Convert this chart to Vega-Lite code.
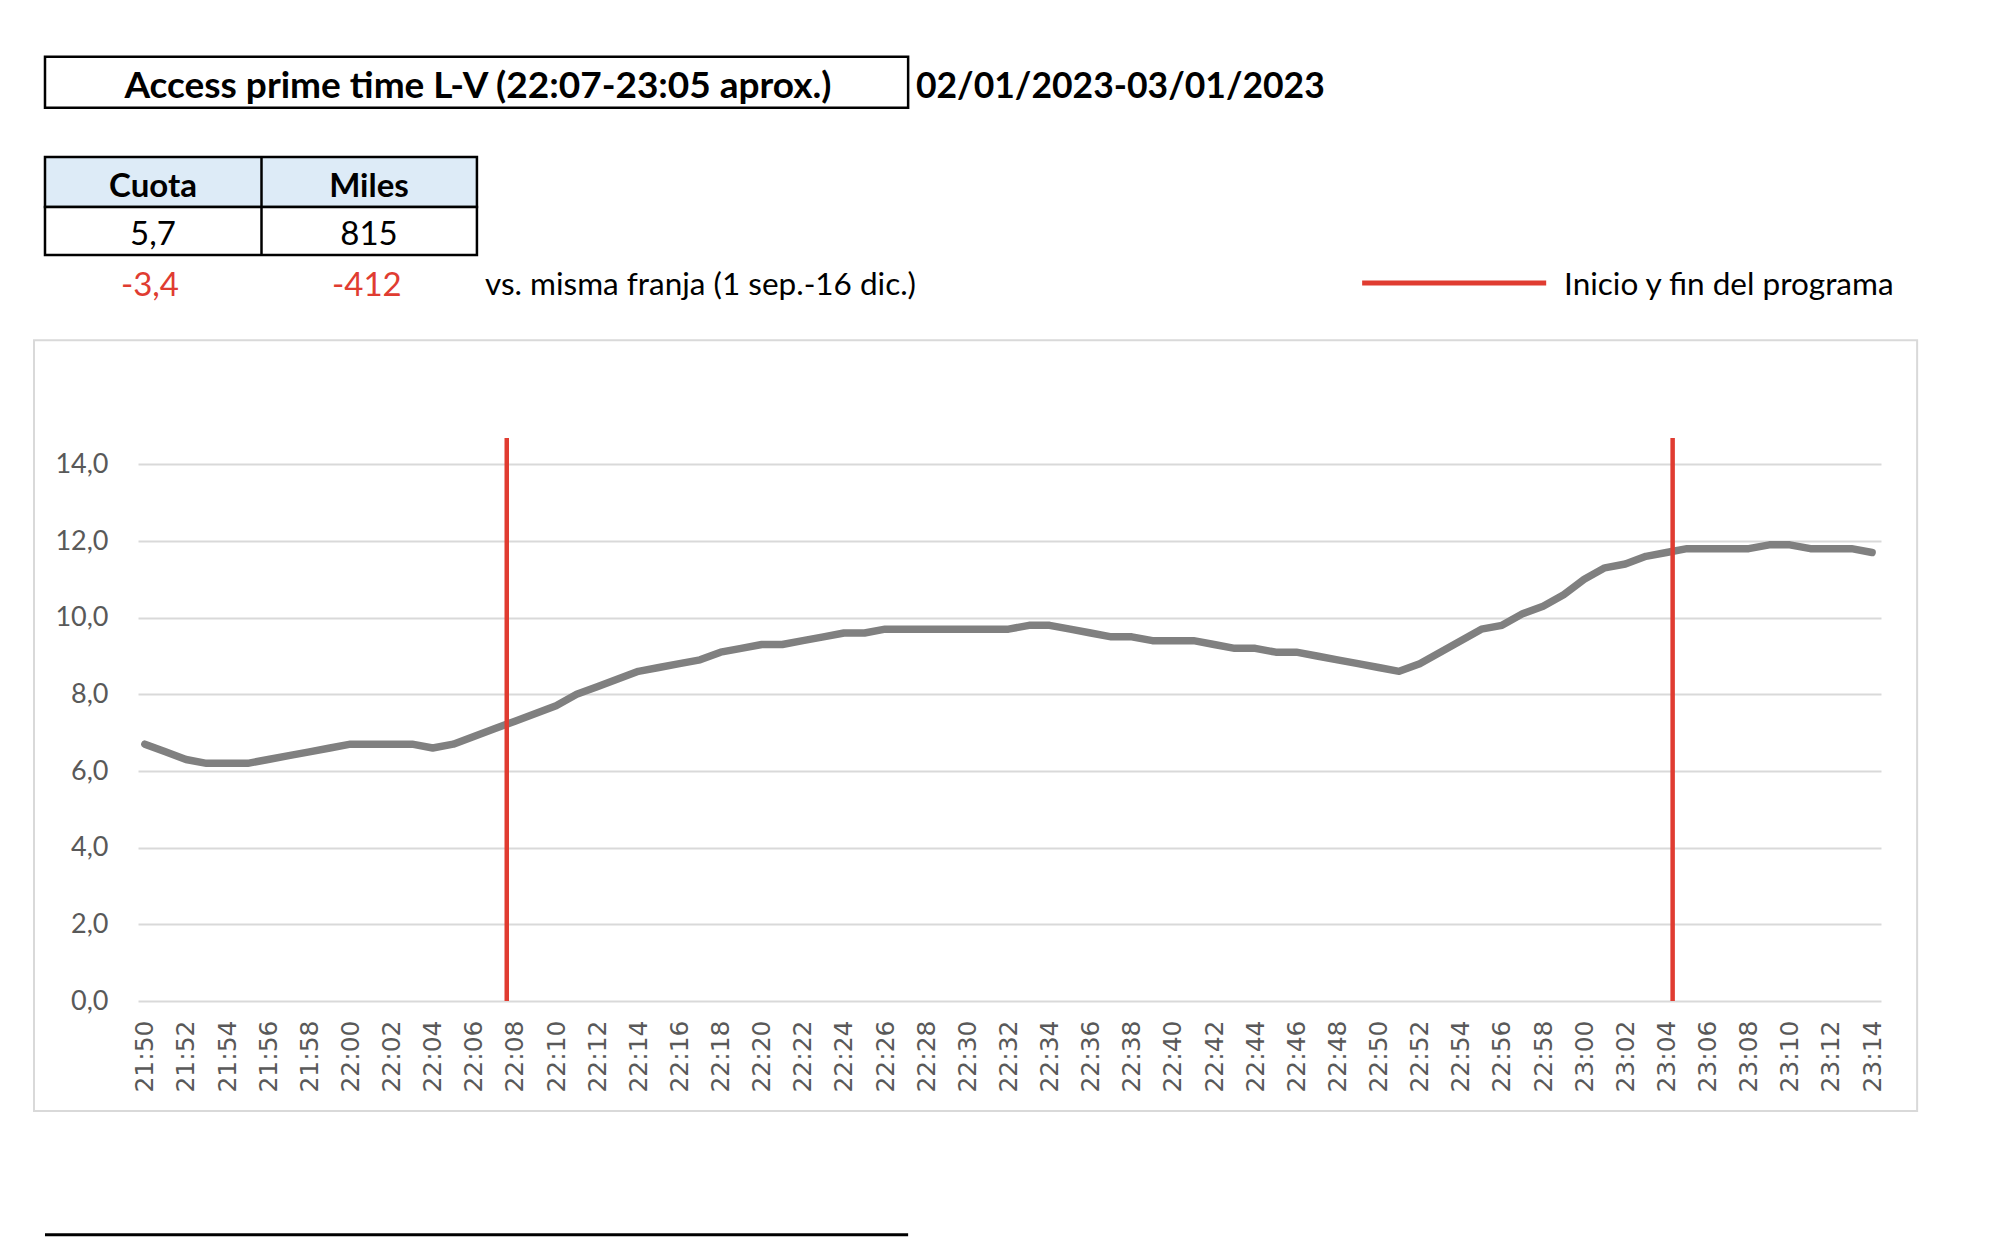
{
  "$schema": "https://vega.github.io/schema/vega-lite/v6.json",
  "width": 1743,
  "height": 575,
  "autosize": {"type": "none"},
  "padding": {"left": 138, "top": 426, "right": 119, "bottom": 236},
  "background": "white",
  "config": {"view": {"stroke": null}, "font": "Lato"},
  "layer": [
    {
      "data": {"values": [{}]},
      "mark": {"type": "rect", "fill": "white", "fillOpacity": 0, "stroke": "#d9d9d9", "strokeWidth": 2},
      "encoding": {
        "x": {"datum": -5.39, "type": "quantitative"},
        "x2": {"datum": 86.19},
        "y": {"datum": 17.24, "type": "quantitative"},
        "y2": {"datum": -2.87}
      }
    },
    {
      "data": {
        "values": [
          {"hora": "21:50", "min": 0, "cuota": 6.7}, {"hora": "21:51", "min": 1, "cuota": 6.5}, {"hora": "21:52", "min": 2, "cuota": 6.3}, {"hora": "21:53", "min": 3, "cuota": 6.2},
          {"hora": "21:54", "min": 4, "cuota": 6.2}, {"hora": "21:55", "min": 5, "cuota": 6.2}, {"hora": "21:56", "min": 6, "cuota": 6.3}, {"hora": "21:57", "min": 7, "cuota": 6.4},
          {"hora": "21:58", "min": 8, "cuota": 6.5}, {"hora": "21:59", "min": 9, "cuota": 6.6}, {"hora": "22:00", "min": 10, "cuota": 6.7}, {"hora": "22:01", "min": 11, "cuota": 6.7},
          {"hora": "22:02", "min": 12, "cuota": 6.7}, {"hora": "22:03", "min": 13, "cuota": 6.7}, {"hora": "22:04", "min": 14, "cuota": 6.6}, {"hora": "22:05", "min": 15, "cuota": 6.7},
          {"hora": "22:06", "min": 16, "cuota": 6.9}, {"hora": "22:07", "min": 17, "cuota": 7.1}, {"hora": "22:08", "min": 18, "cuota": 7.3}, {"hora": "22:09", "min": 19, "cuota": 7.5},
          {"hora": "22:10", "min": 20, "cuota": 7.7}, {"hora": "22:11", "min": 21, "cuota": 8.0}, {"hora": "22:12", "min": 22, "cuota": 8.2}, {"hora": "22:13", "min": 23, "cuota": 8.4},
          {"hora": "22:14", "min": 24, "cuota": 8.6}, {"hora": "22:15", "min": 25, "cuota": 8.7}, {"hora": "22:16", "min": 26, "cuota": 8.8}, {"hora": "22:17", "min": 27, "cuota": 8.9},
          {"hora": "22:18", "min": 28, "cuota": 9.1}, {"hora": "22:19", "min": 29, "cuota": 9.2}, {"hora": "22:20", "min": 30, "cuota": 9.3}, {"hora": "22:21", "min": 31, "cuota": 9.3},
          {"hora": "22:22", "min": 32, "cuota": 9.4}, {"hora": "22:23", "min": 33, "cuota": 9.5}, {"hora": "22:24", "min": 34, "cuota": 9.6}, {"hora": "22:25", "min": 35, "cuota": 9.6},
          {"hora": "22:26", "min": 36, "cuota": 9.7}, {"hora": "22:27", "min": 37, "cuota": 9.7}, {"hora": "22:28", "min": 38, "cuota": 9.7}, {"hora": "22:29", "min": 39, "cuota": 9.7},
          {"hora": "22:30", "min": 40, "cuota": 9.7}, {"hora": "22:31", "min": 41, "cuota": 9.7}, {"hora": "22:32", "min": 42, "cuota": 9.7}, {"hora": "22:33", "min": 43, "cuota": 9.8},
          {"hora": "22:34", "min": 44, "cuota": 9.8}, {"hora": "22:35", "min": 45, "cuota": 9.7}, {"hora": "22:36", "min": 46, "cuota": 9.6}, {"hora": "22:37", "min": 47, "cuota": 9.5},
          {"hora": "22:38", "min": 48, "cuota": 9.5}, {"hora": "22:39", "min": 49, "cuota": 9.4}, {"hora": "22:40", "min": 50, "cuota": 9.4}, {"hora": "22:41", "min": 51, "cuota": 9.4},
          {"hora": "22:42", "min": 52, "cuota": 9.3}, {"hora": "22:43", "min": 53, "cuota": 9.2}, {"hora": "22:44", "min": 54, "cuota": 9.2}, {"hora": "22:45", "min": 55, "cuota": 9.1},
          {"hora": "22:46", "min": 56, "cuota": 9.1}, {"hora": "22:47", "min": 57, "cuota": 9.0}, {"hora": "22:48", "min": 58, "cuota": 8.9}, {"hora": "22:49", "min": 59, "cuota": 8.8},
          {"hora": "22:50", "min": 60, "cuota": 8.7}, {"hora": "22:51", "min": 61, "cuota": 8.6}, {"hora": "22:52", "min": 62, "cuota": 8.8}, {"hora": "22:53", "min": 63, "cuota": 9.1},
          {"hora": "22:54", "min": 64, "cuota": 9.4}, {"hora": "22:55", "min": 65, "cuota": 9.7}, {"hora": "22:56", "min": 66, "cuota": 9.8}, {"hora": "22:57", "min": 67, "cuota": 10.1},
          {"hora": "22:58", "min": 68, "cuota": 10.3}, {"hora": "22:59", "min": 69, "cuota": 10.6}, {"hora": "23:00", "min": 70, "cuota": 11.0}, {"hora": "23:01", "min": 71, "cuota": 11.3},
          {"hora": "23:02", "min": 72, "cuota": 11.4}, {"hora": "23:03", "min": 73, "cuota": 11.6}, {"hora": "23:04", "min": 74, "cuota": 11.7}, {"hora": "23:05", "min": 75, "cuota": 11.8},
          {"hora": "23:06", "min": 76, "cuota": 11.8}, {"hora": "23:07", "min": 77, "cuota": 11.8}, {"hora": "23:08", "min": 78, "cuota": 11.8}, {"hora": "23:09", "min": 79, "cuota": 11.9},
          {"hora": "23:10", "min": 80, "cuota": 11.9}, {"hora": "23:11", "min": 81, "cuota": 11.8}, {"hora": "23:12", "min": 82, "cuota": 11.8}, {"hora": "23:13", "min": 83, "cuota": 11.8},
          {"hora": "23:14", "min": 84, "cuota": 11.7}
        ]
      },
      "mark": {"type": "line", "color": "#808080", "strokeWidth": 7.5, "strokeJoin": "round", "strokeCap": "round"},
      "encoding": {
        "x": {
          "field": "min", "type": "quantitative",
          "scale": {"domain": [-0.333, 84.433], "nice": false, "zero": false},
          "axis": {"title": null, "values": [0, 2, 4, 6, 8, 10, 12, 14, 16, 18, 20, 22, 24, 26, 28, 30, 32, 34, 36, 38, 40, 42, 44, 46, 48, 50, 52, 54, 56, 58, 60, 62, 64, 66, 68, 70, 72, 74, 76, 78, 80, 82, 84], "labelExpr": "timeFormat(datetime(2023, 0, 2, 21, 50 + datum.value, 0, 0), '%H:%M')", "labelAngle": -90, "labelFont": "DejaVu Sans", "labelFontSize": 25, "labelColor": "#595959", "labelPadding": 19, "ticks": false, "domain": false, "grid": false, "labelOverlap": false, "labelBound": false, "labelFlush": false}
        },
        "y": {
          "field": "cuota", "type": "quantitative",
          "scale": {"domain": [0, 15], "nice": false, "zero": true},
          "axis": {"title": null, "values": [0, 2, 4, 6, 8, 10, 12, 14], "labelExpr": "replace(format(datum.value, '.1f'), '.', ',')", "labelFont": "Lato", "labelFontSize": 27, "labelColor": "#595959", "labelPadding": 30, "ticks": false, "domain": false, "grid": true, "gridColor": "#d9d9d9", "gridWidth": 2}
        }
      }
    },
    {
      "data": {"values": [{"evento": "inicio", "min": 17.6}, {"evento": "fin", "min": 74.3}]},
      "mark": {"type": "rule", "color": "#e03c31", "strokeWidth": 4.5},
      "encoding": {
        "x": {"field": "min", "type": "quantitative"},
        "y": {"datum": 0, "type": "quantitative"},
        "y2": {"datum": 14.69}
      }
    },
    {
      "data": {"values": [{}]},
      "mark": {"type": "rect", "fill": "white", "stroke": "black", "strokeWidth": 2.5},
      "encoding": {
        "x": {"datum": -4.856, "type": "quantitative"},
        "x2": {"datum": 37.12},
        "y": {"datum": 24.63, "type": "quantitative"},
        "y2": {"datum": 23.30}
      }
    },
    {
      "data": {"values": [{}]},
      "mark": {"type": "text", "text": "Access prime time L-V (22:07-23:05 aprox.)", "font": "Lato", "fontWeight": "bold", "fontSize": 37, "align": "center", "baseline": "middle", "color": "black"},
      "encoding": {
        "x": {"datum": 16.2, "type": "quantitative"},
        "y": {"datum": 23.85, "type": "quantitative"}
      }
    },
    {
      "data": {"values": [{}]},
      "mark": {"type": "text", "text": "02/01/2023-03/01/2023", "font": "Lato", "fontWeight": "bold", "fontSize": 35.5, "align": "left", "baseline": "middle", "color": "black"},
      "encoding": {
        "x": {"datum": 37.5, "type": "quantitative"},
        "y": {"datum": 23.85, "type": "quantitative"}
      }
    },
    {
      "data": {"values": [{}]},
      "mark": {"type": "rect", "fill": "#ddebf7", "stroke": "black", "strokeWidth": 2.5},
      "encoding": {
        "x": {"datum": -4.856, "type": "quantitative"},
        "x2": {"datum": 16.15},
        "y": {"datum": 22.02, "type": "quantitative"},
        "y2": {"datum": 20.71}
      }
    },
    {
      "data": {"values": [{}]},
      "mark": {"type": "rect", "fill": "white", "stroke": "black", "strokeWidth": 2.5},
      "encoding": {
        "x": {"datum": -4.856, "type": "quantitative"},
        "x2": {"datum": 16.15},
        "y": {"datum": 20.71, "type": "quantitative"},
        "y2": {"datum": 19.46}
      }
    },
    {
      "data": {"values": [{}]},
      "mark": {"type": "rule", "color": "black", "strokeWidth": 2.5},
      "encoding": {
        "x": {"datum": 5.673, "type": "quantitative"},
        "y": {"datum": 22.02, "type": "quantitative"},
        "y2": {"datum": 19.46}
      }
    },
    {
      "data": {"values": [{}]},
      "mark": {"type": "text", "text": "Cuota", "font": "Lato", "fontWeight": "bold", "fontSize": 33, "align": "center", "baseline": "middle", "color": "black"},
      "encoding": {"x": {"datum": 0.396, "type": "quantitative"}, "y": {"datum": 21.245, "type": "quantitative"}}
    },
    {
      "data": {"values": [{}]},
      "mark": {"type": "text", "text": "Miles", "font": "Lato", "fontWeight": "bold", "fontSize": 33, "align": "center", "baseline": "middle", "color": "black"},
      "encoding": {"x": {"datum": 10.9, "type": "quantitative"}, "y": {"datum": 21.245, "type": "quantitative"}}
    },
    {
      "data": {"values": [{}]},
      "mark": {"type": "text", "text": "5,7", "font": "Lato", "fontSize": 33, "align": "center", "baseline": "middle", "color": "black"},
      "encoding": {"x": {"datum": 0.396, "type": "quantitative"}, "y": {"datum": 19.995, "type": "quantitative"}}
    },
    {
      "data": {"values": [{}]},
      "mark": {"type": "text", "text": "815", "font": "Lato", "fontSize": 33, "align": "center", "baseline": "middle", "color": "black"},
      "encoding": {"x": {"datum": 10.9, "type": "quantitative"}, "y": {"datum": 19.995, "type": "quantitative"}}
    },
    {
      "data": {"values": [{}]},
      "mark": {"type": "text", "text": "-3,4", "font": "Lato", "fontSize": 33, "align": "center", "baseline": "middle", "color": "#e03c31"},
      "encoding": {"x": {"datum": 0.25, "type": "quantitative"}, "y": {"datum": 18.665, "type": "quantitative"}}
    },
    {
      "data": {"values": [{}]},
      "mark": {"type": "text", "text": "-412", "font": "Lato", "fontSize": 33, "align": "center", "baseline": "middle", "color": "#e03c31"},
      "encoding": {"x": {"datum": 10.8, "type": "quantitative"}, "y": {"datum": 18.665, "type": "quantitative"}}
    },
    {
      "data": {"values": [{}]},
      "mark": {"type": "text", "text": "vs. misma franja (1 sep.-16 dic.)", "font": "Lato", "fontSize": 31.5, "align": "left", "baseline": "middle", "color": "black"},
      "encoding": {"x": {"datum": 16.54, "type": "quantitative"}, "y": {"datum": 18.665, "type": "quantitative"}}
    },
    {
      "data": {"values": [{}]},
      "mark": {"type": "rule", "color": "#e03c31", "strokeWidth": 5},
      "encoding": {
        "x": {"datum": 59.2, "type": "quantitative"},
        "x2": {"datum": 68.15},
        "y": {"datum": 18.73, "type": "quantitative"}
      }
    },
    {
      "data": {"values": [{}]},
      "mark": {"type": "text", "text": "Inicio y fin del programa", "font": "Lato", "fontSize": 31.5, "align": "left", "baseline": "middle", "color": "black"},
      "encoding": {"x": {"datum": 69.02, "type": "quantitative"}, "y": {"datum": 18.665, "type": "quantitative"}}
    },
    {
      "data": {"values": [{}]},
      "mark": {"type": "rule", "color": "black", "strokeWidth": 3},
      "encoding": {
        "x": {"datum": -4.856, "type": "quantitative"},
        "x2": {"datum": 37.12},
        "y": {"datum": -6.1, "type": "quantitative"}
      }
    }
  ]
}
